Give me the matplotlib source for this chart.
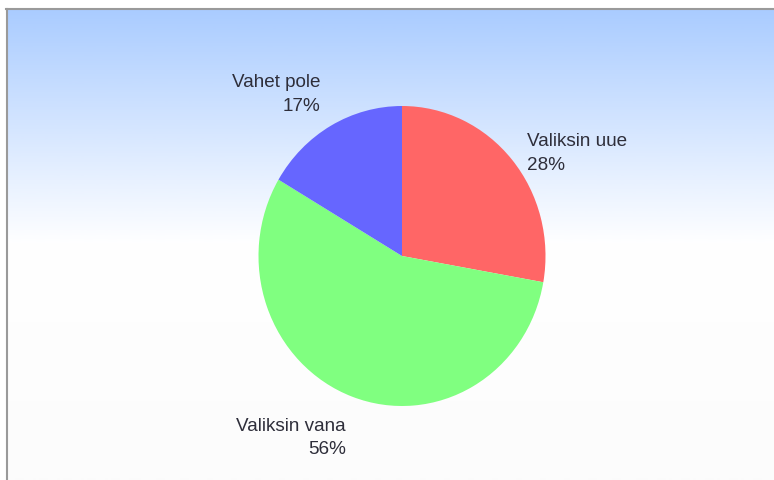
import numpy as np
import matplotlib
matplotlib.use("Agg")
import matplotlib.pyplot as plt
from matplotlib.colors import LinearSegmentedColormap

labels = ["Valiksin uue", "Valiksin vana", "Vahet pole"]
values = [27.8, 55.7, 16.5]
pct_labels = ["28%", "56%", "17%"]
colors = ["#ff6666", "#80ff80", "#6666ff"]

W, H = 774, 481
fig = plt.figure(figsize=(W / 100, H / 100), dpi=100)
fig.patch.set_facecolor("white")

def fx(x):
    return x / W

def fy(y):
    return 1 - y / H

# background gradient panel
bg = fig.add_axes([fx(7), 0, 1 - fx(7), fy(10)])
bg.set_axis_off()
grad = np.linspace(0, 1, 471).reshape(-1, 1)
cmap = LinearSegmentedColormap.from_list(
    "bg", [(0.0, "#aaccff"), (0.5, "#ffffff"), (1.0, "#fcfcfc")])
bg.imshow(grad, aspect="auto", cmap=cmap, extent=[0, 1, 1, 0], interpolation="bilinear")
bg.set_xlim(0, 1)
bg.set_ylim(1, 0)

# border lines
fig.add_artist(plt.Line2D([fx(6), 1], [fy(9.5), fy(9.5)], color="#9a9a9a", lw=1.5))
fig.add_artist(plt.Line2D([fx(6.5), fx(6.5)], [0, fy(9.5)], color="#9a9a9a", lw=1.5))

# pie
cx, cy, rx, ry = 402, 257, 143.5, 150
ax = fig.add_axes([fx(cx - rx), fy(cy + ry), 2 * rx / W, 2 * ry / H])
ax.pie(values, colors=colors, startangle=90, counterclock=False,
       wedgeprops=dict(linewidth=0, antialiased=True))
ax.set_aspect("auto")
ax.set_xlim(-1, 1)
ax.set_ylim(-1, 1)
ax.set_axis_off()

# labels: (x, baseline y of name, baseline y of pct, ha)
label_pos = [(527, 146, 170, "left"), (346, 431, 454, "right"), (320, 87, 111, "right")]
for name, pct, (x, y1, y2, ha) in zip(labels, pct_labels, label_pos):
    fig.text(fx(x), fy(y1), name, ha=ha, va="baseline", fontsize=13.6,
             family="Liberation Sans", color="#2e2e3a")
    fig.text(fx(x), fy(y2), pct, ha=ha, va="baseline", fontsize=13.6,
             family="Liberation Sans", color="#2e2e3a")

fig.savefig("out.png", dpi=100)
